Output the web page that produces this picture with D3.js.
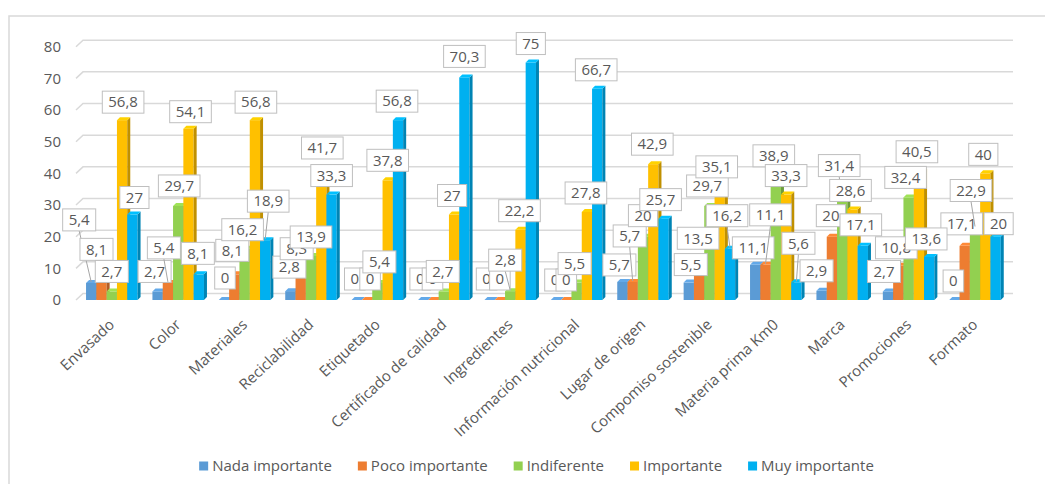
<!DOCTYPE html>
<html>
<head>
<meta charset="utf-8">
<script src="https://cdn.jsdelivr.net/npm/d3@7/dist/d3.min.js"></script>
<style>
  html, body { margin: 0; padding: 0; background: #ffffff; }
  svg { display: block; font-family: "Open Sans", "Noto Sans", sans-serif; }
</style>
</head>
<body>
<script>
// ---------- DATA ----------
const categories = ["Envasado", "Color", "Materiales", "Reciclabilidad", "Etiquetado",
  "Certificado de calidad", "Ingredientes", "Información nutricional", "Lugar de origen",
  "Compomiso sostenible", "Materia prima Km0", "Marca", "Promociones", "Formato"];
const seriesNames = ["Nada importante", "Poco importante", "Indiferente", "Importante", "Muy importante"];
const nadaImportante = [5.4, 2.7, 0, 2.8, 0, 0, 0, 0, 5.7, 5.5, 11.1, 2.9, 2.7, 0];
const pocoImportante = [8.1, 5.4, 8.1, 8.3, 0, 0, 0, 0, 5.7, 13.5, 11.1, 20, 10.8, 17.1];
const indiferente    = [2.7, 29.7, 16.2, 13.9, 5.4, 2.7, 2.8, 5.5, 20, 29.7, 38.9, 31.4, 32.4, 22.9];
const importante     = [56.8, 54.1, 56.8, 41.7, 37.8, 27, 22.2, 27.8, 42.9, 35.1, 33.3, 28.6, 40.5, 40];
const muyImportante  = [27, 8.1, 18.9, 33.3, 56.8, 70.3, 75, 66.7, 25.7, 16.2, 5.6, 17.1, 13.6, 20];
const yTicks = [0, 10, 20, 30, 40, 50, 60, 70, 80];

// ---------- LAYOUT / STYLE ----------
const seriesColors = ["#5B9BD5", "#ED7D31", "#92D050", "#FFC000", "#00B0F0"];
// label nudges [dx, dy] in px relative to default position above each bar (per category, per series)
const labelNudge = [
  [[-12,-44],[-5,-6],[0,-1],[1,1],[2,2]],
  [[-3,-1],[-4,-16],[1,-1],[2,2],[-1,-2]],
  [[1,-3],[-2,-5],[-2,0],[1,1],[3,-20]],
  [[-1,-5],[-4,-6],[0,0],[1,-1],[0,0]],
  [[-2,-2],[3,-2],[2,-2],[0,-1],[-1,0]],
  [[-3,-2],[-1,-2],[-1,-1],[-2,0],[0,-2]],
  [[-3,-2],[0,-2],[-5,-12],[-1,0],[0,0]],
  [[-1,-1],[0,-1],[-2,0],[-1,0],[-1,0]],
  [[-3,2],[-3,-27],[0,-2],[-1,-1],[-3,0]],
  [[2,1],[-1,0],[-2,-1],[-3,-3],[-3,-14]],
  [[-2,2],[5,-31],[-2,-2],[0,0],[2,-20]],
  [[-5,-1],[-1,-2],[-3,-16],[-2,0],[-2,-2]],
  [[-4,-1],[-2,1],[-3,-1],[-2,-1],[-3,1]],
  [[-1,0],[-3,-3],[-4,-18],[-2,0],[3,6]]
];

const W = 1045, H = 484;
const textColor = "#595959";
const gridColor = "#d9d9d9";
const depth = 3;

const seriesData = [nadaImportante, pocoImportante, indiferente, importante, muyImportante];

const svg = d3.select("body").append("svg").attr("width", W).attr("height", H);
svg.append("rect").attr("width", W).attr("height", H).attr("fill", "#fff");

// chart border (left + top visible)
svg.append("path").attr("d", `M9,${H} L9,16 L${W},16`)
  .attr("fill", "none").attr("stroke", gridColor).attr("stroke-width", 1.5);

const y = d3.scaleLinear().domain([0, 80]).range([300, 46.7]);
const x0 = d3.scaleBand().domain(categories).range([78.6, 78.6 + 14 * 66.4])
  .paddingInner(0.224).paddingOuter(0.112);
const x1 = d3.scaleBand().domain(seriesNames).range([0, x0.bandwidth()]);

// gridlines (back wall, with small 3D side-wall segment)
svg.append("g").selectAll("path").data(yTicks).join("path")
  .attr("d", t => `M76,${y(t)} L83,${y(t) - 6.5} L1013,${y(t) - 6.5}`)
  .attr("fill", "none").attr("stroke", gridColor).attr("stroke-width", 1.5);

// y axis labels
const yAxis = svg.append("g").attr("transform", "translate(61,0)")
  .call(d3.axisLeft(y).tickValues(yTicks).tickSize(0).tickPadding(0));
yAxis.select(".domain").remove();
yAxis.selectAll("text").attr("font-size", 15).attr("fill", textColor)
  .attr("font-family", '"Open Sans", sans-serif');

// x axis labels
const xAxis = svg.append("g").attr("transform", "translate(0,300)")
  .call(d3.axisBottom(x0).tickSize(0).tickPadding(0));
xAxis.select(".domain").remove();
xAxis.selectAll("text")
  .attr("font-size", 15).attr("fill", textColor)
  .attr("font-family", '"Open Sans", sans-serif')
  .attr("text-anchor", "end")
  .attr("x", 0).attr("y", 0).attr("dy", "0.35em")
  .attr("transform", "translate(0,22) rotate(-43)");

// bars (3D look)
const barsG = svg.append("g");
categories.forEach((c, i) => {
  seriesNames.forEach((s, j) => {
    const v = seriesData[j][i];
    const bx = x0(c) + x1(s);
    const w = x1.bandwidth();
    const top = y(v), bot = y(0);
    const col = d3.color(seriesColors[j]);
    const g = barsG.append("g");
    if (v > 0) {
      g.append("rect").attr("x", bx).attr("y", top).attr("width", w).attr("height", bot - top)
        .attr("fill", col.formatHex());
      g.append("path")
        .attr("d", `M${bx + w},${top} L${bx + w + depth},${top - depth} L${bx + w + depth},${bot - depth} L${bx + w},${bot} Z`)
        .attr("fill", col.darker(0.8).formatHex());
    }
    g.append("path")
      .attr("d", `M${bx},${top} L${bx + w},${top} L${bx + w + depth},${top - depth} L${bx + depth},${top - depth} Z`)
      .attr("fill", col.brighter(0.25).formatHex());
  });
});

// data labels (drawn series by series)
const labelsG = svg.append("g");
const fmt = v => String(v).replace(".", ",");
seriesNames.forEach((s, j) => {
  categories.forEach((c, i) => {
    const v = seriesData[j][i];
    const w = x1.bandwidth();
    const bcx = x0(c) + x1(s) + w / 2;
    const [dx, dy] = labelNudge[i][j];
    const cx = bcx + dx, cy = y(v) - 19 + dy;
    const g = labelsG.append("g");
    const t = g.append("text").attr("x", cx).attr("y", cy).attr("dy", "0.35em")
      .attr("text-anchor", "middle").attr("font-size", 15).attr("fill", textColor)
      .text(fmt(v));
    const tw = t.node().getComputedTextLength();
    const bw = tw + 12, bh = 22;
    if (Math.abs(dy) >= 12) {
      g.insert("line", "text")
        .attr("x1", cx).attr("y1", cy + bh / 2)
        .attr("x2", bcx).attr("y2", y(v) - 1)
        .attr("stroke", "#a6a6a6").attr("stroke-width", 1);
    }
    g.insert("rect", "text")
      .attr("x", cx - bw / 2).attr("y", cy - bh / 2).attr("width", bw).attr("height", bh)
      .attr("fill", "#fff").attr("stroke", "#bfbfbf").attr("stroke-width", 1);
  });
});

// legend
const legendG = svg.append("g");
const items = seriesNames.map((name, j) => {
  const g = legendG.append("g");
  g.append("rect").attr("width", 9).attr("height", 9).attr("y", -4.5).attr("fill", seriesColors[j]);
  const t = g.append("text").attr("x", 13).attr("dy", "0.35em").attr("font-size", 15)
    .attr("fill", textColor).text(name);
  return { g, w: 13 + t.node().getComputedTextLength() };
});
const gap = 26;
const total = d3.sum(items, d => d.w) + gap * (items.length - 1);
let lx = 536.5 - total / 2;
items.forEach(it => { it.g.attr("transform", `translate(${lx},466)`); lx += it.w + gap; });
</script>
</body>
</html>
